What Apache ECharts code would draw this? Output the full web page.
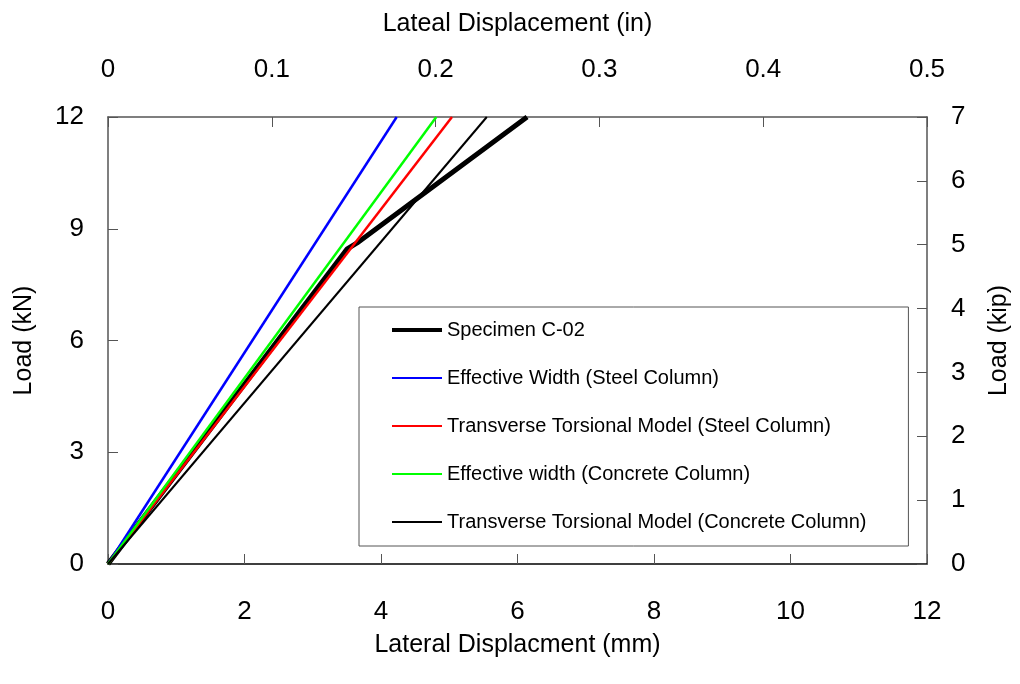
<!DOCTYPE html>
<html>
<head>
<meta charset="utf-8">
<script src="https://cdn.jsdelivr.net/npm/echarts@6/dist/echarts.min.js"></script>
<style>
  html, body { margin: 0; padding: 0; background: #fff; }
  #chart { width: 1020px; height: 684px; }
</style>
</head>
<body>
<div id="chart"></div>
<script>
// displacement (mm), load (kN)
const specimen = [[0, 0], [1.5, 3.62], [3.5, 8.45], [3.65, 8.62], [6.14, 12]]
const ewSteel = [[0, 0], [4.23, 12]]
const ttmSteel = [[0, 0], [5.04, 12]]
const ewConcrete = [[0, 0], [4.81, 12]]
const ttmConcrete = [[0, 0], [5.55, 12]]

const seriesNames = [
  'Specimen C-02',
  'Effective Width (Steel Column)',
  'Transverse Torsional Model (Steel Column)',
  'Effective width (Concrete Column)',
  'Transverse Torsional Model (Concrete Column)'
]
const seriesData = [specimen, ewSteel, ttmSteel, ewConcrete, ttmConcrete]
const colors = ['#000000', '#0000ff', '#ff0000', '#00ff00', '#000000']
const widths = [5, 2.5, 2.5, 2.5, 2]

const font = 'Liberation Sans, Arial, sans-serif'
const chart = echarts.init(document.getElementById('chart'))

let series = seriesNames.map((name, i) => {
  return {
    name: name,
    type: 'line',
    data: seriesData[i],
    symbol: 'none',
    z: i === 0 ? 3 : 4,
    lineStyle: { color: colors[i], width: widths[i] },
    itemStyle: { color: colors[i] }
  }
})

let legendData = seriesNames.map((name, i) => {
  return { name: name, lineStyle: { color: colors[i], width: i === 0 ? 4 : 2 } }
})

const tickStyle = { inside: true, length: 10, lineStyle: { color: '#555' } }

let option = {
  animation: false,
  textStyle: { fontFamily: font },
  grid: { left: 108, right: 93, top: 117, bottom: 120 },
  legend: {
    orient: 'vertical',
    left: 359,
    top: 307,
    data: legendData,
    backgroundColor: '#fff',
    borderColor: '#555',
    borderWidth: 1,
    padding: [13, 42, 14, 31],
    itemWidth: 50,
    itemHeight: 20,
    itemGap: 28,
    itemStyle: { opacity: 0, borderWidth: 0 },
    textStyle: { fontFamily: font, fontSize: 20, color: '#000', lineHeight: 20 }
  },
  xAxis: [
    {
      type: 'value', position: 'bottom', min: 0, max: 12, interval: 2,
      name: 'Lateral Displacment (mm)', nameLocation: 'middle', nameGap: 69,
      nameTextStyle: { fontSize: 25, color: '#000', fontFamily: font },
      axisLine: { onZero: false, lineStyle: { color: '#000', width: 1.5 } },
      axisTick: tickStyle,
      axisLabel: { fontSize: 26, color: '#000', margin: 35, fontFamily: font },
      splitLine: { show: false }
    },
    {
      type: 'value', position: 'top', min: 0, max: 0.5, interval: 0.1,
      name: 'Lateal Displacement (in)', nameLocation: 'middle', nameGap: 80,
      nameTextStyle: { fontSize: 25, color: '#000', fontFamily: font },
      axisLine: { onZero: false, lineStyle: { color: '#555', width: 1.5 } },
      axisTick: tickStyle,
      axisLabel: { fontSize: 26, color: '#000', margin: 34, fontFamily: font },
      splitLine: { show: false }
    }
  ],
  yAxis: [
    {
      type: 'value', position: 'left', min: 0, max: 12, interval: 3,
      name: 'Load (kN)', nameLocation: 'middle', nameGap: 71,
      nameTextStyle: { fontSize: 25, color: '#000', fontFamily: font },
      axisLine: { show: true, onZero: false, lineStyle: { color: '#555', width: 1.5 } },
      axisTick: tickStyle,
      axisLabel: { fontSize: 26, color: '#000', margin: 24, fontFamily: font },
      splitLine: { show: false }
    },
    {
      type: 'value', position: 'right', min: 0, max: 7, interval: 1,
      name: 'Load (kip)', nameLocation: 'middle', nameGap: 60, nameRotate: 90,
      nameTextStyle: { fontSize: 25, color: '#000', fontFamily: font },
      axisLine: { show: true, onZero: false, lineStyle: { color: '#555', width: 1.5 } },
      axisTick: tickStyle,
      axisLabel: { fontSize: 26, color: '#000', margin: 24, fontFamily: font },
      splitLine: { show: false }
    }
  ],
  series: series
}

option && chart.setOption(option)
</script>
</body>
</html>
